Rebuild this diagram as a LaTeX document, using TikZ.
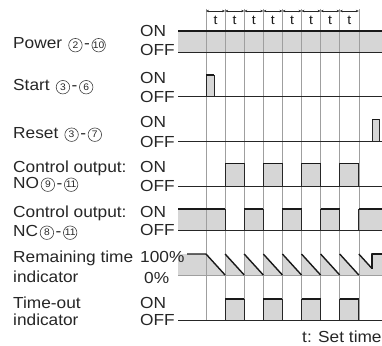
\documentclass[tikz,border=0pt]{standalone}
\usepackage{fontspec}
\setmainfont{Liberation Sans}[FakeStretch=1.08]
\usetikzlibrary{arrows.meta}
% circled pair after a label node: #1 label node, #2 gap, #3 #4 numbers
\newcommand\cpair[4]{%
  \node[cn,anchor=west] (#1a) at ([xshift=#2,yshift=3.3pt]#1.base east) {#3};
  \node[lbl] (#1h) at ([xshift=1.5pt]#1a.east |- #1.base) {-};
  \node[cn,anchor=west] (#1b) at ([xshift=1.5pt,yshift=3.3pt]#1h.base east) {#4};}
\begin{document}
\begin{tikzpicture}[x=1pt,y=-1pt,
  lbl/.style={anchor=base west,font=\fontsize{16}{16}\selectfont,inner sep=0pt,text=black!85},
  cn/.style={circle,draw=black!75,line width=0.6pt,inner sep=0pt,minimum size=13.5pt,font=\fontsize{9.5}{9.5}\selectfont,text=black!85},
  sig/.style={line width=0.7pt,draw=black!85},
  toped/.style={line width=1.4pt,draw=black!90},
  gridl/.style={draw=gray!75,line width=0.55pt},
  tarr/.style={{Stealth[length=3pt,width=2.4pt]}-{Stealth[length=3pt,width=2.4pt]},line width=0.6pt,draw=black!85}]
\useasboundingbox (0,0) rectangle (382,345);
\fill[white] (0,0) rectangle (382,345);

% ---- shaded areas first
\fill[gray!32] (178,31) rectangle (382,52);
\foreach \a/\b in {178/225.1,244.2/263.3,282.4/301.5,320.6/339.7,358.8/382}
  \fill[gray!32] (\a,209) rectangle (\b,230);
\fill[gray!32] (178,254) -- (206,254) -- (225.1,275) -- (225.1,254) -- (244.2,275) -- (244.2,254) -- (263.3,275) -- (263.3,254) -- (282.4,275) -- (282.4,254) -- (301.5,275) -- (301.5,254) -- (320.6,275) -- (320.6,254) -- (339.7,275) -- (339.7,254) -- (358.8,275) -- (358.8,254) -- (372,268.5) -- (372,254) -- (382,254) -- (382,275) -- (178,275) -- cycle;
\fill[gray!32] (206,75) rectangle (214,96.7);
\fill[gray!32] (372,119.3) rectangle (379.3,141.7);
\foreach \a/\b in {225.1/244.2,263.3/282.4,301.5/320.6,339.7/358.8}{
  \fill[gray!32] (\a,163.3) rectangle (\b,186);
  \fill[gray!32] (\a,299) rectangle (\b,320);
}

% ---- grid lines
\foreach \i in {0,...,8}
  \draw[gridl] ({206+19.1*\i},9) -- ({206+19.1*\i},320);

% ---- top time brackets
\foreach \i in {0,...,7}{
  \draw[tarr] ({206+19.1*\i},11) -- ({206+19.1*(\i+1)},11);
  \node[font=\fontsize{13}{13}\selectfont,inner sep=0pt,text=black!90] (t\i) at ({206+19.1*\i+9.55},20) {t};
}

% ---- power
\draw[toped] (178,31) -- (382,31);
\draw[sig] (178,52) -- (382,52);

% ---- start
\draw[sig] (178,96.7) -- (382,96.7);
\draw[sig] (206,96.7) -- (206,75) -- (214,75) -- (214,96.7);
\draw[toped] (206,75) -- (214,75);

% ---- reset
\draw[sig] (178,141.7) -- (382,141.7);
\draw[sig] (372,141.7) -- (372,119.3) -- (379.3,119.3) -- (379.3,141.7);
\draw[toped] (372,119.3) -- (379.3,119.3);

% ---- NO output and time-out
\draw[sig] (178,186) -- (382,186);
\draw[sig] (178,320) -- (382,320);
\foreach \a/\b in {225.1/244.2,263.3/282.4,301.5/320.6,339.7/358.8}{
  \draw[sig] (\a,186) -- (\a,163.3) -- (\b,163.3) -- (\b,186);
  \draw[toped] (\a,163.3) -- (\b,163.3);
  \draw[sig] (\a,320) -- (\a,299) -- (\b,299) -- (\b,320);
  \draw[toped] (\a,299) -- (\b,299);
}

% ---- NC output
\draw[sig] (178,230) -- (382,230);
\foreach \a/\b in {178/225.1,244.2/263.3,282.4/301.5,320.6/339.7,358.8/382}
  \draw[toped] (\a,209) -- (\b,209);
\foreach \x in {225.1,244.2,263.3,282.4,301.5,320.6,339.7,358.8}
  \draw[sig] (\x,209) -- (\x,230);

% ---- remaining time
\draw[gridl] (178,275) -- (382,275);
\draw[toped,line join=round] (187,254) -- (206,254) -- (225.1,275);
\foreach \x in {225.1,244.2,263.3,282.4,301.5,320.6,339.7}
  \draw[toped] (\x,254) -- ({\x+19.1},275);
\draw[toped] (358.8,254) -- (372,268.5);
\draw[toped,line join=round] (372,268.5) -- (372,254) -- (382,254);

% ---- labels
\node[lbl] (lpow) at (13,48.5) {Power};
\cpair{lpow}{6pt}{2}{10}
\node[lbl] (lpon) at (140,37) {ON};
\node[lbl] (lpoff) at (140,56) {OFF};

\node[lbl] (lsta) at (13,90.5) {Start};
\cpair{lsta}{6pt}{3}{6}
\node[lbl] (lston) at (140,83) {ON};
\node[lbl] (lstoff) at (140,102) {OFF};

\node[lbl] (lres) at (13,138) {Reset};
\cpair{lres}{6pt}{3}{7}
\node[lbl] (lreon) at (140,127) {ON};
\node[lbl] (lreoff) at (140,147) {OFF};

\node[lbl] (lno1) at (13,172) {Control output:};
\node[lbl] (lno2) at (13,188) {NO};
\cpair{lno2}{1.5pt}{9}{11}
\node[lbl] (lnoon) at (140,172) {ON};
\node[lbl] (lnooff) at (140,191) {OFF};

\node[lbl] (lnc1) at (13,217) {Control output:};
\node[lbl] (lnc2) at (13,236) {NC};
\cpair{lnc2}{1.5pt}{8}{11}
\node[lbl] (lncon) at (140,217) {ON};
\node[lbl] (lncoff) at (140,235.5) {OFF};

\node[lbl] (lrt1) at (13,262) {Remaining time};
\node[lbl] (lrt2) at (13,282) {indicator};
\node[lbl] (lrt100) at (140,262) {100\%};
\node[lbl] (lrt0) at (144,283) {0\%};

\node[lbl] (lto1) at (13,308) {Time-out};
\node[lbl] (lto2) at (13,325) {indicator};
\node[lbl] (ltoon) at (140,308) {ON};
\node[lbl] (ltooff) at (140,325) {OFF};

\node[lbl] (lset) at (302,342) {t: Set time};
\end{tikzpicture}
\end{document}
